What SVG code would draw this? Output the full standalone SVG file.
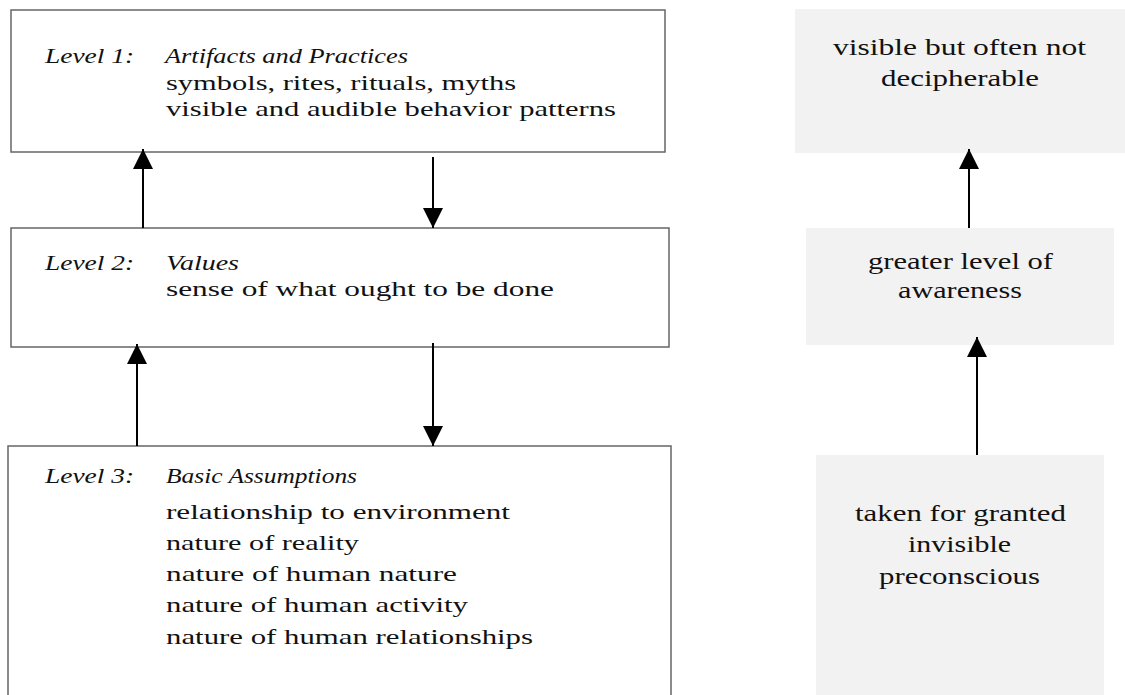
<svg xmlns="http://www.w3.org/2000/svg" width="1125" height="695" viewBox="0 0 1125 695">
<defs>
<style>
.box{fill:#fff;stroke:#666;stroke-width:1.5}
.gbox{fill:#f2f2f2;stroke:none}
text{font-family:"Liberation Serif","Times New Roman",serif;fill:#111}
.t{font-size:22px}
.r{font-size:23px}
.i{font-style:italic}
.c{stroke:#000;stroke-width:2;fill:none;marker-end:url(#ah)}
</style>
<marker id="ah" viewBox="0 0 20 20" refX="20" refY="10" markerWidth="20" markerHeight="20" markerUnits="userSpaceOnUse" orient="auto">
<path d="M0,0 L20,10 L0,20 z" fill="#000"/>
</marker>
</defs>
<g id="level1">
<rect class="box" x="11" y="10" width="654" height="142"/>
<text class="t i" x="45" y="63" textLength="89" lengthAdjust="spacingAndGlyphs">Level 1:</text>
<text class="t i" x="165" y="63" textLength="243" lengthAdjust="spacingAndGlyphs">Artifacts and Practices</text>
<text class="t" x="166" y="90" textLength="350" lengthAdjust="spacingAndGlyphs">symbols, rites, rituals, myths</text>
<text class="t" x="166" y="116" textLength="450" lengthAdjust="spacingAndGlyphs">visible and audible behavior patterns</text>
</g>
<g id="level2">
<rect class="box" x="11" y="228" width="658" height="119"/>
<text class="t i" x="45" y="270" textLength="89" lengthAdjust="spacingAndGlyphs">Level 2:</text>
<text class="t i" x="166" y="270" textLength="73" lengthAdjust="spacingAndGlyphs">Values</text>
<text class="t" x="166" y="296" textLength="388" lengthAdjust="spacingAndGlyphs">sense of what ought to be done</text>
</g>
<g id="level3">
<rect class="box" x="8" y="446" width="663" height="270"/>
<text class="t i" x="45" y="483" textLength="89" lengthAdjust="spacingAndGlyphs">Level 3:</text>
<text class="t i" x="166" y="483" textLength="191" lengthAdjust="spacingAndGlyphs">Basic Assumptions</text>
<text class="t" x="166" y="519" textLength="344" lengthAdjust="spacingAndGlyphs">relationship to environment</text>
<text class="t" x="166" y="550" textLength="193" lengthAdjust="spacingAndGlyphs">nature of reality</text>
<text class="t" x="166" y="581" textLength="291" lengthAdjust="spacingAndGlyphs">nature of human nature</text>
<text class="t" x="166" y="612" textLength="302" lengthAdjust="spacingAndGlyphs">nature of human activity</text>
<text class="t" x="166" y="644" textLength="367" lengthAdjust="spacingAndGlyphs">nature of human relationships</text>
</g>
<g id="visible">
<rect class="gbox" x="795" y="9" width="330" height="144"/>
<text class="r" x="833" y="55" textLength="253" lengthAdjust="spacingAndGlyphs">visible but often not</text>
<text class="r" x="881" y="86" textLength="158" lengthAdjust="spacingAndGlyphs">decipherable</text>
</g>
<g id="awareness">
<rect class="gbox" x="806" y="228" width="308" height="117"/>
<text class="r" x="868" y="269" textLength="185" lengthAdjust="spacingAndGlyphs">greater level of</text>
<text class="r" x="898" y="298" textLength="124" lengthAdjust="spacingAndGlyphs">awareness</text>
</g>
<g id="preconscious">
<rect class="gbox" x="816" y="455" width="288" height="240"/>
<text class="r" x="855" y="521" textLength="211" lengthAdjust="spacingAndGlyphs">taken for granted</text>
<text class="r" x="908" y="552" textLength="103" lengthAdjust="spacingAndGlyphs">invisible</text>
<text class="r" x="879" y="584" textLength="161" lengthAdjust="spacingAndGlyphs">preconscious</text>
</g>
<g id="connectors">
<path class="c" d="M143,228 V149"/>
<path class="c" d="M433,157 V228"/>
<path class="c" d="M137,446 V344"/>
<path class="c" d="M433,343 V446"/>
<path class="c" d="M969,228 V149"/>
<path class="c" d="M977,455 V337"/>
</g>
</svg>
